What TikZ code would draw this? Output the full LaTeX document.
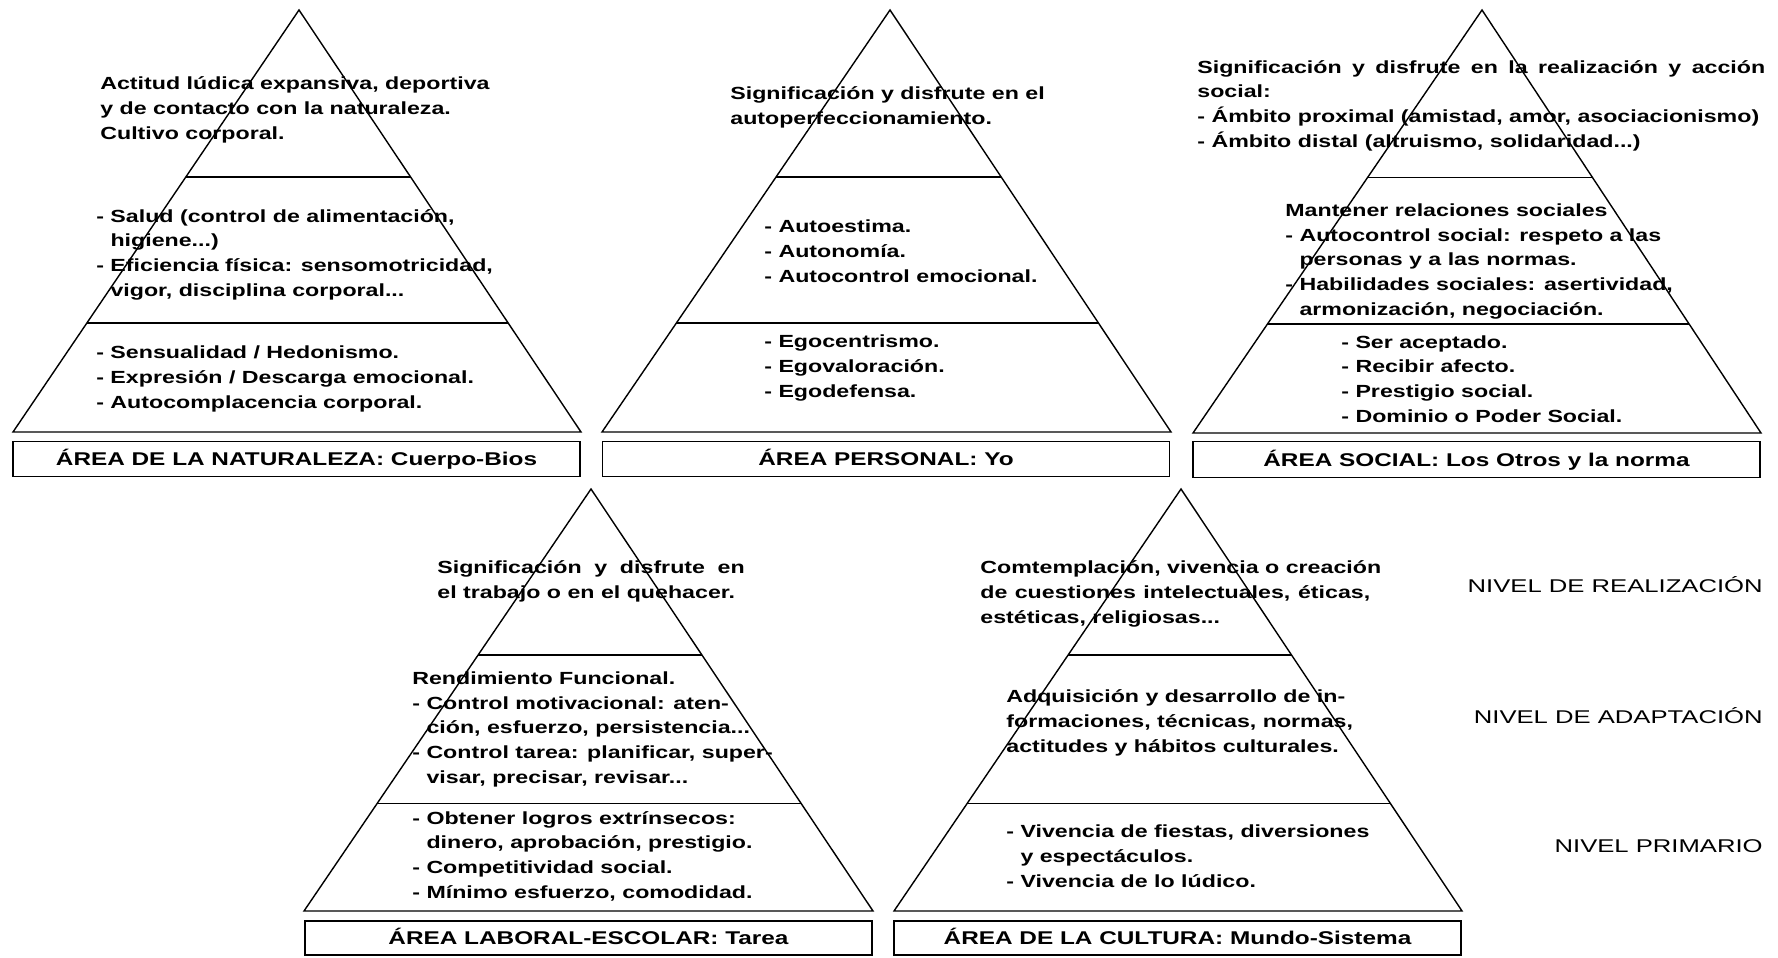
\documentclass[tikz,border=0pt]{standalone}
\usepackage{fontspec}
\setmainfont{Liberation Sans}[FakeStretch=1.32]
\newfontfamily\nivelfont{Liberation Sans}[FakeStretch=1.39]
\usetikzlibrary{calc}

\begin{document}
\begin{tikzpicture}[x=0.02cm, y=-0.02cm,
    pyramid/.style={line width=0.8pt, line join=miter},
    txt/.style={anchor=base west, align=left, inner sep=0, font=\fontsize{10}{14}\selectfont\bfseries},
    area/.style={draw, line width=0.8pt, inner sep=0, minimum width=11.34cm, minimum height=0.71cm, text height=7.5pt, text depth=0pt, font=\fontsize{10.5}{12}\selectfont\bfseries},
    nivel/.style={anchor=base east, inner sep=0, font=\nivelfont\fontsize{10.5}{12}\selectfont}]

    \useasboundingbox (0,0) rectangle (1778,957);

    \coordinate (a1) at (299,10);   \coordinate (l1) at (13,432);  \coordinate (r1) at (581,432);
    \coordinate (a2) at (890,10);   \coordinate (l2) at (602,432); \coordinate (r2) at (1171,432);
    \coordinate (a3) at (1482,10);  \coordinate (l3) at (1193,433); \coordinate (r3) at (1761,433);
    \coordinate (a4) at (591,489);  \coordinate (l4) at (304,911); \coordinate (r4) at (873,911);
    \coordinate (a5) at (1181,489); \coordinate (l5) at (894,911); \coordinate (r5) at (1462,911);

    \draw[pyramid] (a1) -- (l1) -- (r1) -- cycle;
    \draw[pyramid] ($(a1)!0.396!(l1)$) -- ($(a1)!0.396!(r1)$);
    \draw[pyramid] ($(a1)!0.742!(l1)$) -- ($(a1)!0.742!(r1)$);

    \draw[pyramid] (a2) -- (l2) -- (r2) -- cycle;
    \draw[pyramid] ($(a2)!0.396!(l2)$) -- ($(a2)!0.396!(r2)$);
    \draw[pyramid] ($(a2)!0.742!(l2)$) -- ($(a2)!0.742!(r2)$);

    \draw[pyramid] (a3) -- (l3) -- (r3) -- cycle;
    \draw[pyramid] ($(a3)!0.396!(l3)$) -- ($(a3)!0.396!(r3)$);
    \draw[pyramid] ($(a3)!0.742!(l3)$) -- ($(a3)!0.742!(r3)$);

    \draw[pyramid] (a4) -- (l4) -- (r4) -- cycle;
    \draw[pyramid] ($(a4)!0.393!(l4)$) -- ($(a4)!0.393!(r4)$);
    \draw[pyramid] ($(a4)!0.745!(l4)$) -- ($(a4)!0.745!(r4)$);

    \draw[pyramid] (a5) -- (l5) -- (r5) -- cycle;
    \draw[pyramid] ($(a5)!0.393!(l5)$) -- ($(a5)!0.393!(r5)$);
    \draw[pyramid] ($(a5)!0.745!(l5)$) -- ($(a5)!0.745!(r5)$);

    % text blocks sit on the baseline of their last line
    \node[txt] (nat top) at (100,139) {Actitud lúdica expansiva, deportiva\\y de contacto con la naturaleza.\\Cultivo corporal.};
    \node[txt] (nat mid) at (96,296) {- Salud (control de alimentación,\\\hphantom{- }higiene...)\\- Eficiencia física: sensomotricidad,\\\hphantom{- }vigor, disciplina corporal...};
    \node[txt] (nat low) at (96,408) {- Sensualidad / Hedonismo.\\- Expresión / Descarga emocional.\\- Autocomplacencia corporal.};
    \node[area] (nat area) at (296.5,459) {ÁREA DE LA NATURALEZA: Cuerpo-Bios};

    \node[txt] (per top) at (730,124) {Significación y disfrute en el\\autoperfeccionamiento.};
    \node[txt] (per mid) at (764,282) {- Autoestima.\\- Autonomía.\\- Autocontrol emocional.};
    \node[txt] (per low) at (764,397) {- Egocentrismo.\\- Egovaloración.\\- Egodefensa.};
    \node[area] (per area) at (886,459) {ÁREA PERSONAL: Yo};

    \node[txt] (soc top) at (1197,147) {\makebox[11.36cm][s]{Significación y disfrute en la realización y acción}\\social:\\- Ámbito proximal (amistad, amor, asociacionismo)\\- Ámbito distal (altruismo, solidaridad...)};
    \node[txt] (soc mid) at (1285,315) {Mantener relaciones sociales\\- Autocontrol social: respeto a las\\\hphantom{- }personas y a las normas.\\- Habilidades sociales: asertividad,\\\hphantom{- }armonización, negociación.};
    \node[txt] (soc low) at (1341,422) {- Ser aceptado.\\- Recibir afecto.\\- Prestigio social.\\- Dominio o Poder Social.};
    \node[area] (soc area) at (1476.5,459.5) {ÁREA SOCIAL: Los Otros y la norma};

    \node[txt] (lab top) at (437,598) {\makebox[6.15cm][s]{Significación y disfrute en}\\el trabajo o en el quehacer.};
    \node[txt] (lab mid) at (412,783) {Rendimiento Funcional.\\- Control motivacional: aten-\\\hphantom{- }ción, esfuerzo, persistencia...\\- Control tarea: planificar, super-\\\hphantom{- }visar, precisar, revisar...};
    \node[txt] (lab low) at (412,898) {- Obtener logros extrínsecos:\\\hphantom{- }dinero, aprobación, prestigio.\\- Competitividad social.\\- Mínimo esfuerzo, comodidad.};
    \node[area, minimum height=0.68cm] (lab area) at (588.5,938) {ÁREA LABORAL-ESCOLAR: Tarea};

    \node[txt] (cul top) at (980,623) {Comtemplación, vivencia o creación\\\makebox[7.8cm][s]{de cuestiones intelectuales, éticas,}\\estéticas, religiosas...};
    \node[txt] (cul mid) at (1006,752) {Adquisición y desarrollo de in-\\formaciones, técnicas, normas,\\actitudes y hábitos culturales.};
    \node[txt] (cul low) at (1006,887) {- Vivencia de fiestas, diversiones\\\hphantom{- }y espectáculos.\\- Vivencia de lo lúdico.};
    \node[area, minimum height=0.68cm] (cul area) at (1177.5,938) {ÁREA DE LA CULTURA: Mundo-Sistema};

    \node[nivel] (real) at (1763,592) {NIVEL DE REALIZACIÓN};
    \node[nivel] (adap) at (1763,723) {NIVEL DE ADAPTACIÓN};
    \node[nivel] (prim) at (1763,852) {NIVEL PRIMARIO};
\end{tikzpicture}
\end{document}
